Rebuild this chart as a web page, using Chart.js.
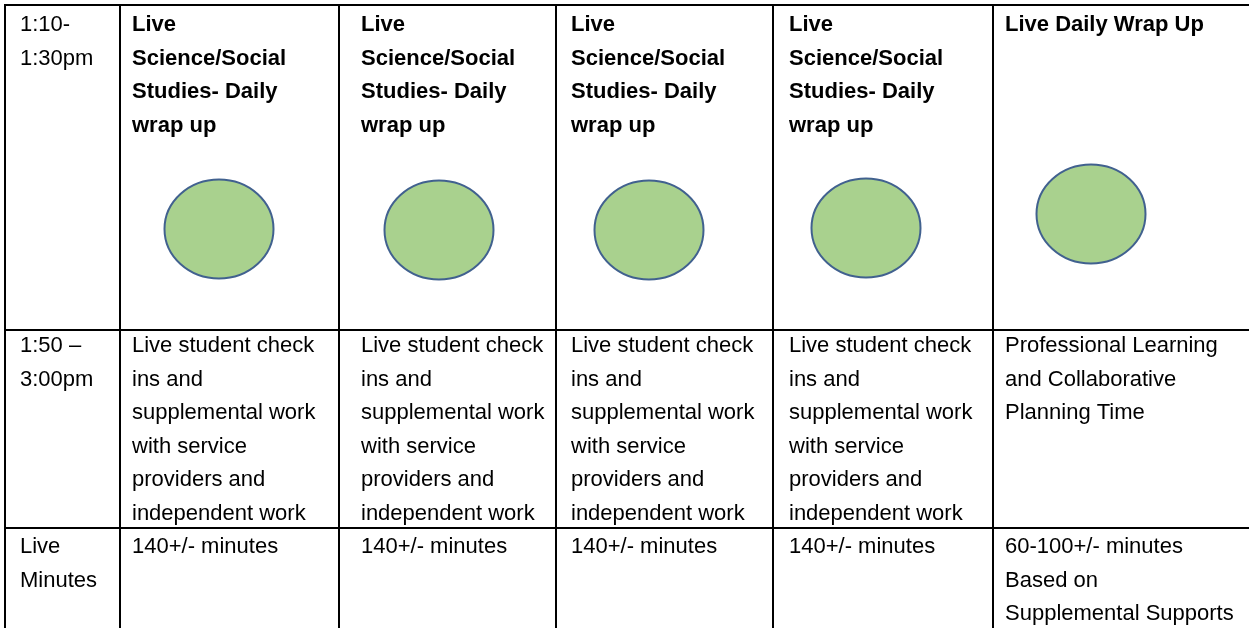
<!DOCTYPE html>
<html>
<head>
<meta charset="utf-8">
<script src="https://cdn.jsdelivr.net/npm/chart.js@4"></script>
<style>
  html, body { margin: 0; padding: 0; background: #fff; }
  #scheduleChart { display: block; }
</style>
</head>
<body>
<canvas id="scheduleChart" width="1249" height="628"></canvas>
<script>
// time slot labels (first column)
const timeSlots = [['1:10-', '1:30pm'], ['1:50 –', '3:00pm'], ['Live', 'Minutes']];

// one entry per day column
const wrapUp = [
    ['Live', 'Science/Social', 'Studies- Daily', 'wrap up'],
    ['Live', 'Science/Social', 'Studies- Daily', 'wrap up'],
    ['Live', 'Science/Social', 'Studies- Daily', 'wrap up'],
    ['Live', 'Science/Social', 'Studies- Daily', 'wrap up'],
    ['Live Daily Wrap Up']
];
const afternoon = [
    ['Live student check', 'ins and', 'supplemental work', 'with service', 'providers and', 'independent work'],
    ['Live student check', 'ins and', 'supplemental work', 'with service', 'providers and', 'independent work'],
    ['Live student check', 'ins and', 'supplemental work', 'with service', 'providers and', 'independent work'],
    ['Live student check', 'ins and', 'supplemental work', 'with service', 'providers and', 'independent work'],
    ['Professional Learning', 'and Collaborative', 'Planning Time']
];
const liveMinutes = [
    ['140+/- minutes'],
    ['140+/- minutes'],
    ['140+/- minutes'],
    ['140+/- minutes'],
    ['60-100+/- minutes', 'Based on', 'Supplemental Supports']
];

// green markers in the wrap up row (table units)
const circleX = [219, 439, 649, 866, 1091];
const circleY = [229, 230, 230, 228, 214];

// table layout
const colEdges = [5, 120, 339, 556, 773, 993];
const rowEdges = [5, 330, 528];
const textX = [20, 132, 361, 571, 789, 1005];
const firstBaseline = [26, 22, 25];
const lineHeight = 33.5;

function makeEllipse() {
    const c = document.createElement('canvas');
    c.width = 114;
    c.height = 104;
    const g = c.getContext('2d');
    g.beginPath();
    g.ellipse(57, 52, 54.5, 49.5, 0, 0, Math.PI * 2);
    g.fillStyle = '#a9d18e';
    g.fill();
    g.lineWidth = 2;
    g.strokeStyle = '#41618f';
    g.stroke();
    return c;
}

const tablePlugin = {
    id: 'scheduleTable',
    beforeDatasetsDraw(chart) {
        const ctx = chart.ctx;
        const xs = chart.scales.x;
        const ys = chart.scales.y;
        ctx.save();

        // grid lines
        ctx.strokeStyle = '#000';
        ctx.lineWidth = 2;
        ctx.beginPath();
        rowEdges.forEach(r => {
            const py = ys.getPixelForValue(r);
            ctx.moveTo(xs.getPixelForValue(colEdges[0]) - 1, py);
            ctx.lineTo(chart.width, py);
        });
        colEdges.forEach(c => {
            const px = xs.getPixelForValue(c);
            ctx.moveTo(px, ys.getPixelForValue(rowEdges[0]));
            ctx.lineTo(px, chart.height);
        });
        ctx.stroke();

        // cell text
        const rows = [wrapUp, afternoon, liveMinutes];
        ctx.fillStyle = '#000';
        ctx.textBaseline = 'alphabetic';
        rows.forEach((cells, r) => {
            const allCells = [timeSlots[r]].concat(cells);
            allCells.forEach((lines, col) => {
                const bold = r === 0 && col > 0;
                ctx.font = (bold ? 'bold ' : '') + '22px "Liberation Sans", Arial, sans-serif';
                lines.forEach((line, i) => {
                    const px = xs.getPixelForValue(textX[col]);
                    const py = ys.getPixelForValue(rowEdges[r] + firstBaseline[r] + i * lineHeight);
                    ctx.fillText(line, px, py);
                });
            });
        });
        ctx.restore();
    }
};

const chart = new Chart(document.getElementById('scheduleChart'), {
    type: 'scatter',
    data: {
        datasets: [{
            data: circleX.map((v, i) => ({ x: v, y: circleY[i] })),
            pointStyle: makeEllipse(),
            pointRadius: 55,
            clip: false
        }]
    },
    options: {
        responsive: false,
        animation: false,
        devicePixelRatio: 1,
        events: [],
        layout: { padding: 0, autoPadding: false },
        plugins: {
            legend: { display: false },
            tooltip: { enabled: false }
        },
        scales: {
            x: { type: 'linear', min: 0, max: 1249, display: false },
            y: { type: 'linear', min: 0, max: 628, reverse: true, display: false }
        }
    },
    plugins: [tablePlugin]
});
</script>
</body>
</html>
